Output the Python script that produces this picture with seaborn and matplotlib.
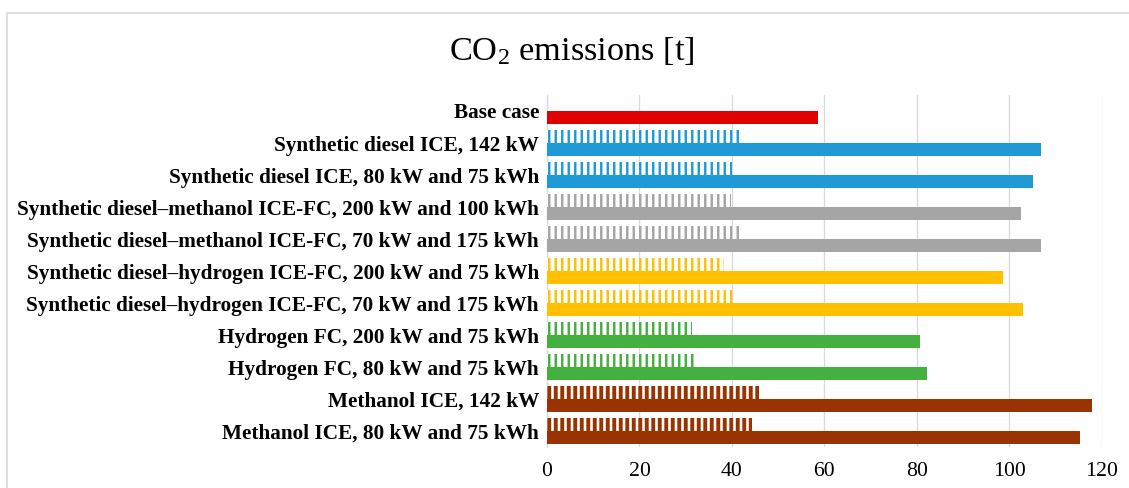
import numpy as np
import matplotlib
matplotlib.use("Agg")
import matplotlib.pyplot as plt
from matplotlib.patches import Rectangle
import seaborn as sns

# Scenario labels, top to bottom
categories = [
    "Base case",
    "Synthetic diesel ICE, 142 kW",
    "Synthetic diesel ICE, 80 kW and 75 kWh",
    "Synthetic diesel\u2013methanol ICE-FC, 200 kW and 100 kWh",
    "Synthetic diesel\u2013methanol ICE-FC, 70 kW and 175 kWh",
    "Synthetic diesel\u2013hydrogen ICE-FC, 200 kW and 75 kWh",
    "Synthetic diesel\u2013hydrogen ICE-FC, 70 kW and 175 kWh",
    "Hydrogen FC, 200 kW and 75 kWh",
    "Hydrogen FC, 80 kW and 75 kWh",
    "Methanol ICE, 142 kW",
    "Methanol ICE, 80 kW and 75 kWh",
]

# Patterned series (upper bar of each pair); no value for the base case
patterned_values = [np.nan, 41.5, 40.1, 39.8, 41.5, 38.3, 40.0, 31.3, 31.9, 45.8, 44.4]

# Solid series (lower bar of each pair)
solid_values = [58.6, 106.8, 105.1, 102.6, 106.8, 98.6, 102.9, 80.6, 82.3, 117.9, 115.3]

bar_colors = ["#E00000", "#1E9BD7", "#1E9BD7", "#A5A5A5", "#A5A5A5",
              "#FFC000", "#FFC000", "#44B03F", "#44B03F", "#993300", "#993300"]

x_ticks = [0, 20, 40, 60, 80, 100, 120]

sns.set_theme(style="white")
plt.rcParams["font.family"] = ["Liberation Serif", "DejaVu Serif"]
plt.rcParams["mathtext.fontset"] = "custom"
plt.rcParams["mathtext.rm"] = "Liberation Serif"
plt.rcParams["mathtext.it"] = "Liberation Serif:italic"

DPI = 117
fig = plt.figure(figsize=(1129 / DPI, 488 / DPI), dpi=DPI)
W, H = 1129, 488
ax = fig.add_axes([547 / W, 1 - 447 / H, (1101.7 - 547) / W, (447 - 95) / H])

# chart-area border
fig.add_artist(Rectangle((7 / W, -0.05), 1.2, 1 - 13 / H + 0.05,
                         transform=fig.transFigure, fill=False,
                         edgecolor="#D9D9D9", linewidth=1.0, zorder=0))

pos = np.arange(len(categories))
bar_h = 0.41
off = 0.205

ax.barh(pos + off, solid_values, height=bar_h, color=bar_colors,
        edgecolor="none", linewidth=0, zorder=3)

for y, v, c in zip(pos, patterned_values, bar_colors):
    if np.isnan(v):
        continue
    lw = 2.4 if c == "#993300" else 1.5
    with plt.rc_context({"hatch.linewidth": lw}):
        b = ax.barh(y - off, v, height=bar_h, facecolor="white",
                    edgecolor=c, hatch="|||", linewidth=0, zorder=3)
    for p in b.patches:
        if hasattr(p, "set_hatch_linewidth"):
            p.set_hatch_linewidth(lw)

ax.set_xlim(0, 120)
ax.set_ylim(len(categories) - 0.5, -0.5)
ax.set_xticks(x_ticks)
ax.set_xticklabels([str(t) for t in x_ticks], fontsize=13.4)
ax.set_yticks(pos)
ax.set_yticklabels(categories, fontsize=13.1, fontweight="bold")
ax.tick_params(axis="both", length=0, colors="black")
ax.tick_params(axis="y", pad=5)
ax.tick_params(axis="x", pad=9)

ax.xaxis.grid(True, color="#D9D9D9", linewidth=0.8)
ax.yaxis.grid(False)
ax.set_axisbelow(True)
for s in ["top", "right", "bottom"]:
    ax.spines[s].set_visible(False)
ax.spines["left"].set_color("#D9D9D9")
ax.spines["left"].set_linewidth(0.8)

fig.text(572 / W, 1 - 51 / H, r"CO$_2$ emissions [t]", ha="center", va="center",
         fontsize=21.2, color="black")

fig.savefig("out.png", dpi=DPI)
